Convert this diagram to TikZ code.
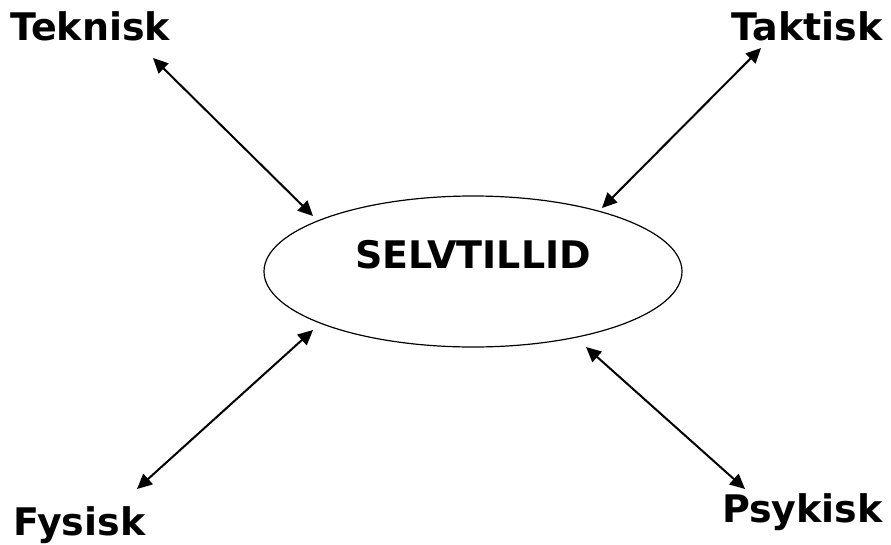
\documentclass[tikz,border=0pt]{standalone}
\usepackage{fontspec}
\setmainfont{DejaVu Sans}
\usetikzlibrary{arrows.meta}
\begin{document}
\begin{tikzpicture}[x=1pt,y=-1pt,
  lbl/.style={font=\bfseries\fontsize{38}{40}\selectfont, inner sep=0pt},
  link/.style={line width=2pt, {Triangle[length=15pt,width=14pt]}-{Triangle[length=15pt,width=14pt]}}]
\useasboundingbox (0,0) rectangle (891,544);
\draw[line width=1.2pt] (473,271.5) ellipse [x radius=209, y radius=75.5];
\node[lbl, anchor=base] (center) at (473,268) {SELVTILLID};
\node[lbl, anchor=base west] (tek) at (10,40) {Teknisk};
\node[lbl, anchor=base east] (tak) at (883,40) {Taktisk};
\node[lbl, anchor=base west] (fys) at (13,535) {Fysisk};
\node[lbl, anchor=base east] (psy) at (883,522) {Psykisk};
\coordinate (a1) at (153,58);  \coordinate (a2) at (313,216);
\coordinate (b1) at (761,48);  \coordinate (b2) at (602,208);
\coordinate (c1) at (313,330); \coordinate (c2) at (137,489);
\coordinate (d1) at (586,347); \coordinate (d2) at (745,489);
\draw[link] (a1) -- (a2);
\draw[link] (b1) -- (b2);
\draw[link] (c1) -- (c2);
\draw[link] (d1) -- (d2);
\end{tikzpicture}
\end{document}
